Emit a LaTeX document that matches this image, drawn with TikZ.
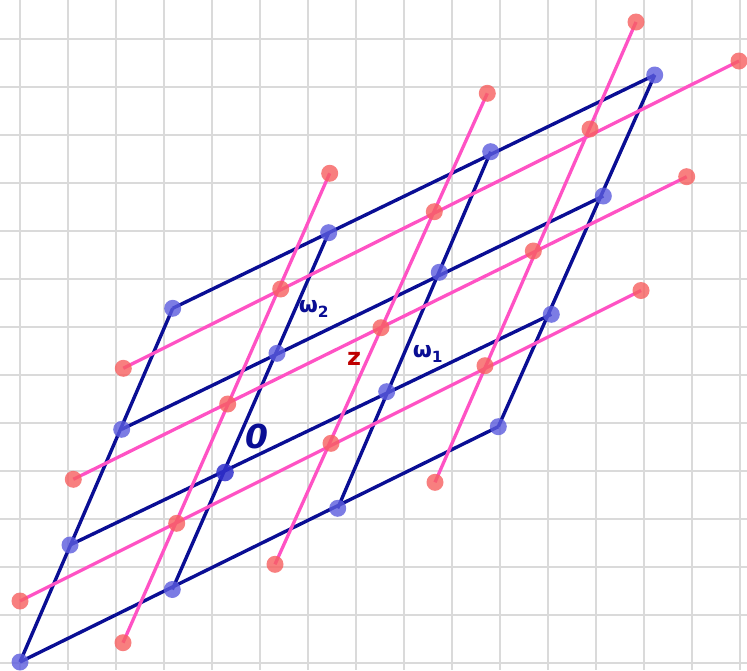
\documentclass[tikz,border=0pt]{standalone}
\usepackage{fontspec}
\setmainfont{DejaVu Sans}
\definecolor{navy}{RGB}{10,14,148}
\definecolor{hotpink}{RGB}{255,82,196}
\definecolor{salmon}{RGB}{247,95,95}
\definecolor{lblue}{RGB}{92,92,222}
\definecolor{oblue}{RGB}{50,50,205}
\definecolor{gridc}{RGB}{218,218,218}
\definecolor{zred}{RGB}{190,0,0}
\begin{document}
\begin{tikzpicture}[x=1pt,y=-1pt,
  gridline/.style={draw=gridc,line width=1.6pt},
  blueline/.style={draw=navy,line width=3.4pt},
  pinkline/.style={draw=hotpink,line width=3.3pt},
  bluedot/.style={fill=lblue,fill opacity=0.8},
  pinkdot/.style={fill=salmon,fill opacity=0.8},
  origindot/.style={fill=oblue,fill opacity=0.85},
  lab/.style={text=navy,inner sep=0pt}]
\useasboundingbox (0,0) rectangle (747,670);
\fill[white] (0,0) rectangle (747,670);
% background grid
\foreach \k in {0,...,15} \draw[gridline] (20+48*\k,0) -- (20+48*\k,670);
\foreach \k in {0,...,13} \draw[gridline] (0,38.7+48*\k) -- (747,38.7+48*\k);
% blue lattice points (column i, row j)
\coordinate (b00) at (20,662);     \coordinate (b10) at (172.3,589.5);
\coordinate (b20) at (337.7,508.3); \coordinate (b30) at (498.3,426.7);
\coordinate (b01) at (70,545);     \coordinate (b11) at (225,472.5);
\coordinate (b21) at (386.7,391.7); \coordinate (b31) at (551.3,314.3);
\coordinate (b02) at (121.7,429.3); \coordinate (b12) at (277,353.3);
\coordinate (b22) at (439.3,272.3); \coordinate (b32) at (603.3,196);
\coordinate (b03) at (172.7,308.3); \coordinate (b13) at (328.7,232.7);
\coordinate (b23) at (490.7,151.7); \coordinate (b33) at (654.7,75);
% pink lattice points
\coordinate (pa0) at (20,601);     \coordinate (pa1) at (176.7,523.3);
\coordinate (pa2) at (331,443.3);  \coordinate (pa3) at (485,365.7);
\coordinate (pa4) at (641,290.5);
\coordinate (pb0) at (73.3,479.3); \coordinate (pb1) at (227.7,404);
\coordinate (pb2) at (381,327.7);  \coordinate (pb3) at (533.3,251);
\coordinate (pb4) at (686.7,176.7);
\coordinate (pc0) at (123.3,368.3); \coordinate (pc1) at (280.7,289);
\coordinate (pc2) at (434.3,211.7); \coordinate (pc3) at (590,129);
\coordinate (pc4) at (739,61);
\coordinate (q10) at (123,642.7);  \coordinate (q14) at (329.7,173.3);
\coordinate (q20) at (275,564.3);  \coordinate (q24) at (487.3,93.3);
\coordinate (q30) at (435,482.3);  \coordinate (q34) at (636,22);
% blue lines
\foreach \j in {0,...,3} \draw[blueline] (b0\j) -- (b3\j);
\foreach \i in {0,...,3} \draw[blueline] (b\i0) -- (b\i3);
% pink lines
\foreach \r in {a,b,c} \draw[pinkline] (p\r0) -- (p\r4);
\draw[pinkline] (q10) -- (q14);
\draw[pinkline] (q20) -- (q24);
\draw[pinkline] (q30) -- (q34);
% blue dots
\foreach \p in {b00,b10,b20,b30,b01,b21,b31,b02,b12,b22,b32,b03,b13,b23,b33}
  \fill[bluedot] (\p) circle (8.5);
\fill[origindot] (b11) circle (8.8);
% pink dots
\foreach \p in {pa0,pa1,pa2,pa3,pa4,pb0,pb1,pb2,pb3,pb4,pc0,pc1,pc2,pc3,pc4,q10,q14,q20,q24,q30,q34}
  \fill[pinkdot] (\p) circle (8.5);
% labels
\node[lab,font=\bfseries\fontsize{22}{22}\selectfont] (w2) at (314,309) {ω\textsubscript{2}};
\node[lab,font=\bfseries\fontsize{22}{22}\selectfont] (w1) at (428,354) {ω\textsubscript{1}};
\node[lab,text=zred,font=\bfseries\fontsize{24}{24}\selectfont] (zl) at (354,359) {z};
\node[lab,font=\bfseries\itshape\fontsize{33}{33}\selectfont] (zero) at (257,436) {0};
\end{tikzpicture}
\end{document}
